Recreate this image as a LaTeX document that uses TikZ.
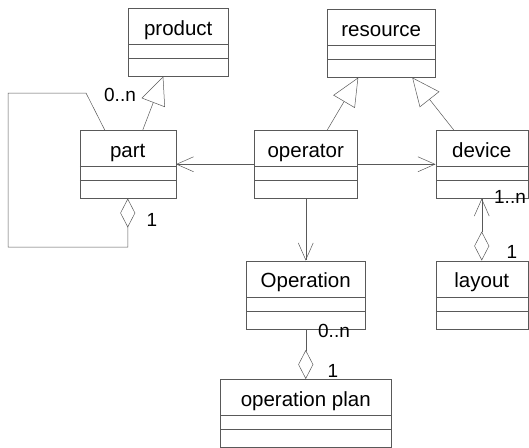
\documentclass[tikz,border=0pt]{standalone}
\usepackage{fontspec}
\setmainfont{Liberation Sans}
\usetikzlibrary{arrows.meta,positioning}
\tikzstyle{classbox} = [rectangle, draw=black!65, line width=0.5pt, minimum height=68pt, inner ysep=0pt, text height=27pt, text depth=41pt, font=\fontsize{20.5}{24}\selectfont, path picture={
		\draw [black!65, line width=0.5pt] ([yshift=-36pt]path picture bounding box.north west) -- ([yshift=-36pt]path picture bounding box.north east);
		\draw [black!65, line width=0.5pt] ([yshift=-50pt]path picture bounding box.north west) -- ([yshift=-50pt]path picture bounding box.north east);}]
\tikzstyle{mult} = [inner sep=0pt, font=\fontsize{19}{22}\selectfont]
\tikzstyle{link} = [draw=black!65, line width=0.5pt]
\tikzstyle{general} = [link, -{Triangle[open, length=28pt, width=25pt]}]
\tikzstyle{aggregate} = [link, {Diamond[open, length=29pt, width=15pt]}-]
\tikzstyle{navigate} = [link, -{Straight Barb[length=17pt, width=15pt]}]
\tikzstyle{aggrnav} = [link, {Diamond[open, length=29pt, width=15pt]}-{Straight Barb[length=17pt, width=15pt]}]

\begin{document}
\begin{tikzpicture}[x=1pt, y=-1pt]
		
		\useasboundingbox (0,0) rectangle (529,447);
		
		\node (product) [classbox, minimum width=100pt, anchor=north west] at (128,8) {product};
		\node (resource) [classbox, minimum width=108pt, anchor=north west] at (327,9) {resource};
		
		\node (operator) [classbox, minimum width=103pt, anchor=north west] at (254,130) {operator};
		\node (part) [classbox, minimum width=96pt, left = 78pt of operator] {part};
		\node (device) [classbox, minimum width=92pt, right = 78pt of operator] {device};
		
		\node (operation) [classbox, minimum width=119pt, below = 62pt of operator] {Operation};
		\node (layout) [classbox, minimum width=92pt, below = 62pt of device] {layout};
		\node (operation_plan) [classbox, minimum width=171pt, below = 50pt of operation] {operation plan};
		
		% part aggregates parts
		\coordinate (loop_bl) at (8,247);
		\coordinate (loop_tl) at (8,93);
		\coordinate (loop_tr) at (86,93);
		
		\draw [aggregate] (part.south) -- (part.south |- loop_bl) -- (loop_bl) -- (loop_tl) -- (loop_tr) -- ([xshift=-23pt]part.north);
		\node (part_many) [mult] at (120,95) {0..n};
		\node (part_one) [mult] at (152,220) {1};
		
		% generalizations
		\draw [general] ([xshift=15pt]part.north) -- ([xshift=-15pt]product.south);
		\draw [general] ([xshift=21.5pt]operator.north) -- ([xshift=-23pt]resource.south);
		\draw [general] ([xshift=-28pt]device.north) -- ([xshift=31pt]resource.south);
		
		% associations
		\draw [navigate] (operator.west) -- (part.east);
		\draw [navigate] (operator.east) -- (device.west);
		\draw [navigate] (operator.south) -- (operation.north);
		
		\draw [aggregate] (operation_plan.north) -- (operation.south);
		\node (op_many) [mult] at (334,331) {0..n};
		\node (op_one) [mult] at (333,371) {1};
		
		\draw [aggrnav] (layout.north) -- (device.south);
		\node (dev_many) [mult] at (510,197) {1..n};
		\node (dev_one) [mult] at (512,252) {1};
		
\end{tikzpicture}
\end{document}
